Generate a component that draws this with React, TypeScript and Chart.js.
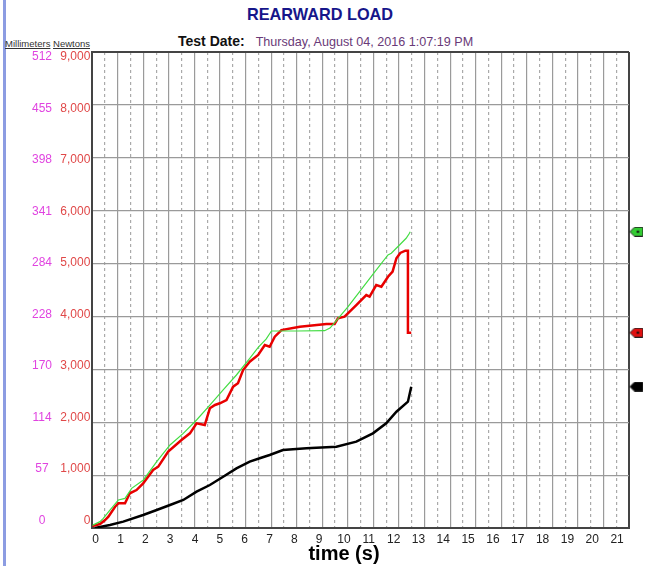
import React, { useEffect, useRef } from "react";
import { Chart, registerables } from "chart.js";

Chart.register(...registerables);

// axis ticks
const newtonTicks = [0, 1000, 2000, 3000, 4000, 5000, 6000, 7000, 8000, 9000];
const newtonLabels = ["0", "1,000", "2,000", "3,000", "4,000", "5,000", "6,000", "7,000", "8,000", "9,000"];
const mmLabels = ["0", "57", "114", "170", "228", "284", "341", "398", "455", "512"];
const timeTicks = [0, 1, 2, 3, 4, 5, 6, 7, 8, 9, 10, 11, 12, 13, 14, 15, 16, 17, 18, 19, 20, 21];

// green trace (time s / newtons)
const greenTime = [0, 0.3, 0.43, 0.69, 1.02, 1.28, 1.54, 2.0, 2.52, 3.04, 3.56, 4.08, 4.6, 5.12, 5.64, 6.16, 6.5, 6.8, 7.01, 8.0, 9.09, 9.3, 9.55, 10.0, 10.46, 11.0, 11.57, 11.7, 12.02, 12.28, 12.41, 12.44];
const greenLoad = [50, 120, 183, 340, 530, 560, 750, 908, 1254, 1570, 1790, 2042, 2325, 2610, 2893, 3208, 3420, 3570, 3725, 3725, 3730, 3780, 3920, 4180, 4468, 4810, 5162, 5194, 5351, 5478, 5572, 5602];

// red trace
const redTime = [0, 0.3, 0.5, 0.63, 0.89, 1.02, 1.28, 1.47, 1.73, 1.99, 2.38, 2.58, 2.97, 3.49, 3.82, 4.08, 4.4, 4.6, 4.8, 4.99, 5.25, 5.51, 5.7, 5.9, 6.16, 6.49, 6.75, 6.94, 7.14, 7.4, 8.12, 9.16, 9.48, 9.61, 9.87, 10.33, 10.72, 10.85, 11.11, 11.31, 11.57, 11.75, 11.9, 12.05, 12.25, 12.35, 12.35, 12.48];
const redLoad = [35, 75, 150, 214, 403, 467, 467, 656, 718, 845, 1097, 1159, 1443, 1664, 1790, 1980, 1947, 2263, 2326, 2358, 2420, 2672, 2736, 2987, 3145, 3271, 3460, 3428, 3617, 3743, 3806, 3857, 3857, 3965, 3995, 4216, 4405, 4374, 4594, 4562, 4751, 4846, 5100, 5200, 5243, 5243, 3693, 3693];

// black trace
const blackTime = [0.1, 0.69, 1.21, 1.99, 2.52, 3.04, 3.56, 4.08, 4.6, 5.12, 5.64, 6.16, 6.55, 6.94, 7.46, 8.38, 9.55, 10.33, 10.98, 11.5, 11.9, 12.35, 12.48];
const blackLoad = [0, 57, 120, 246, 340, 435, 530, 687, 813, 970, 1128, 1254, 1318, 1380, 1475, 1507, 1537, 1632, 1790, 1980, 2199, 2388, 2672];

const markerTime = 21.29;

const FONT = "'Liberation Sans', Arial, sans-serif";

const makeFlag = (fill: string, dot: boolean) => {
  const c = document.createElement("canvas");
  c.width = 14;
  c.height = 10;
  const g = c.getContext("2d")!;
  g.beginPath();
  g.moveTo(0.5, 5);
  g.lineTo(5, 0.5);
  g.lineTo(13.5, 0.5);
  g.lineTo(13.5, 9.5);
  g.lineTo(5, 9.5);
  g.closePath();
  g.fillStyle = fill;
  g.fill();
  g.strokeStyle = "#222";
  g.lineWidth = 1;
  g.stroke();
  if (dot) {
    g.fillStyle = "#111";
    g.beginPath();
    g.arc(8.5, 5, 1.3, 0, Math.PI * 2);
    g.fill();
  }
  return c;
};

const toPoints = (t: number[], v: number[]) => t.map((x, i) => ({ x, y: v[i] }));

const App: React.FC = () => {
  const canvasRef = useRef<HTMLCanvasElement | null>(null);
  const chartRef = useRef<Chart | null>(null);

  useEffect(() => {
    const ctx = canvasRef.current?.getContext("2d");
    if (!ctx) return;
    chartRef.current?.destroy();

    const flags = [makeFlag("#33cc33", true), makeFlag("#e01010", true), makeFlag("#000", false)];
    const markerLoads = [greenLoad[greenLoad.length - 1], redLoad[redLoad.length - 1], blackLoad[blackLoad.length - 1]];

    const isEdge = (v: number, max: number) => v === 0 || v === max;

    chartRef.current = new Chart(ctx, {
      type: "line",
      data: {
        datasets: [
          {
            label: "green",
            data: toPoints(greenTime, greenLoad),
            borderColor: "#44dd44",
            borderWidth: 1.2,
            pointRadius: 0,
            xAxisID: "x",
            yAxisID: "y",
          },
          {
            label: "red",
            data: toPoints(redTime, redLoad),
            borderColor: "#e80000",
            borderWidth: 2.5,
            pointRadius: 0,
            xAxisID: "x",
            yAxisID: "y",
          },
          {
            label: "black",
            data: toPoints(blackTime, blackLoad),
            borderColor: "#000",
            borderWidth: 2.5,
            pointRadius: 0,
            xAxisID: "x",
            yAxisID: "y",
          },
          {
            // flags sit just outside the plot; a large radius keeps them inside the draw margin
            type: "bubble",
            label: "markers",
            data: markerLoads.map((y) => ({ x: markerTime, y, r: 16 })),
            pointStyle: flags as any,
            clip: false as any,
            xAxisID: "x",
            yAxisID: "y",
          } as any,
        ],
      },
      options: {
        animation: false,
        responsive: true,
        maintainAspectRatio: false,
        layout: { padding: { top: 52, right: 16.3, bottom: 0, left: 0 } },
        plugins: { legend: { display: false }, tooltip: { enabled: false } },
        scales: {
          x: {
            type: "linear",
            position: "bottom",
            weight: 0,
            min: 0,
            max: 21,
            ticks: { display: false, stepSize: 0.5 },
            grid: {
              drawTicks: false,
              color: (c: any) => (isEdge(c.tick?.value, 21) ? "#444" : c.tick?.value % 1 ? "#aaaaaa" : "#9a9a9a"),
              lineWidth: (c: any) => (isEdge(c.tick?.value, 21) ? 2 : 1.2),
            },
            border: {
              color: "#444",
              width: 2,
              dash: (c: any) => (c.tick && c.tick.value % 1 ? [3, 3] : []),
            } as any,
            afterFit: (s: any) => {
              s.height = 0;
            },
          },
          xl: {
            type: "linear",
            position: "bottom",
            weight: 1,
            min: -0.137,
            max: 21.48,
            afterBuildTicks: (s: any) => {
              s.ticks = timeTicks.map((value) => ({ value }));
            },
            ticks: {
              autoSkip: false,
              maxRotation: 0,
              padding: 4,
              color: "#222",
              font: { family: FONT, size: 12 },
              callback: (v: any) => String(v),
            },
            grid: { display: false, drawTicks: false },
            border: { display: false },
            title: {
              display: true,
              text: "time (s)\u00a0\u00a0\u00a0\u00a0\u00a0\u00a0",
              color: "#000",
              font: { family: FONT, size: 20, weight: "bold" },
              padding: { top: 0, bottom: 0 },
            },
            afterFit: (s: any) => {
              s.height = 38;
            },
          },
          y: {
            type: "linear",
            position: "left",
            weight: 0,
            min: 0,
            max: 9000,
            ticks: { display: false, stepSize: 1000 },
            grid: {
              drawTicks: false,
              color: (c: any) => (isEdge(c.tick?.value, 9000) ? "#444" : "#9a9a9a"),
              lineWidth: (c: any) => (isEdge(c.tick?.value, 9000) ? 2 : 1.2),
            },
            border: { color: "#444", width: 2 },
            afterFit: (s: any) => {
              s.width = 0;
            },
          },
          yN: {
            type: "linear",
            position: "left",
            weight: 1,
            min: -142,
            max: 9090,
            afterBuildTicks: (s: any) => {
              s.ticks = newtonTicks.map((value) => ({ value }));
            },
            ticks: {
              padding: 2,
              color: "#e04848",
              font: { family: FONT, size: 12 },
              callback: (_v: any, i: number) => newtonLabels[i],
            },
            grid: { display: false, drawTicks: false },
            border: { display: false },
            afterFit: (s: any) => {
              s.width = 38.3;
            },
          },
          yM: {
            type: "linear",
            position: "left",
            weight: 2,
            min: -142,
            max: 9090,
            afterBuildTicks: (s: any) => {
              s.ticks = newtonTicks.map((value) => ({ value }));
            },
            ticks: {
              padding: 2,
              crossAlign: "center",
              color: "#e044e0",
              font: { family: FONT, size: 12 },
              callback: (_v: any, i: number) => mmLabels[i],
            },
            grid: { display: false, drawTicks: false },
            border: { display: false },
            afterFit: (s: any) => {
              s.width = 54;
            },
          },
        },
      } as any,
    });

    return () => {
      chartRef.current?.destroy();
      chartRef.current = null;
    };
  }, []);

  return (
    <div style={{ position: "absolute", left: 0, top: 0, width: 646, height: 566, background: "#fff", fontFamily: FONT }}>
      <div style={{ position: "absolute", left: 3, top: 0, width: 3, height: 566, background: "#8c9ce2" }} />
      <div
        style={{
          position: "absolute",
          left: 0,
          width: 646,
          top: 5,
          textAlign: "center",
          fontSize: 16.3,
          lineHeight: "18px",
          fontWeight: "bold",
          color: "#16168a",
          paddingRight: 6,
          boxSizing: "border-box",
        }}
      >
        REARWARD LOAD
      </div>
      <div style={{ position: "absolute", left: 178, top: 33, lineHeight: "16px", whiteSpace: "nowrap" }}>
        <span style={{ fontWeight: "bold", color: "#111", fontSize: 14 }}>Test Date:</span>
        <span style={{ color: "#6a3a78", marginLeft: 11, fontSize: 12.6 }}>Thursday, August 04, 2016 1:07:19 PM</span>
      </div>
      <div style={{ position: "absolute", left: 5, top: 38, fontSize: 9.5, lineHeight: "12px", color: "#333", whiteSpace: "nowrap" }}>
        <span style={{ textDecoration: "underline" }}>Millimeters</span>{" "}
        <span style={{ textDecoration: "underline" }}>Newtons</span>
      </div>
      <div style={{ position: "absolute", left: 0, top: 0, width: 646, height: 566 }}>
        <canvas ref={canvasRef}></canvas>
      </div>
    </div>
  );
};

export default App;
